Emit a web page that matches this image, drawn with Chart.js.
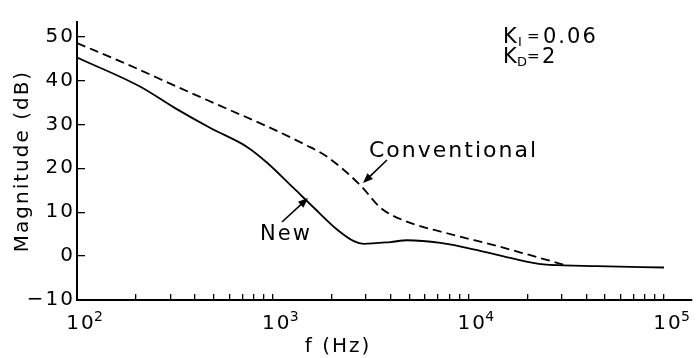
<!DOCTYPE html>
<html>
<head>
<meta charset="utf-8">
<script src="https://cdn.jsdelivr.net/npm/chart.js@4"></script>
<style>
  html, body { margin: 0; padding: 0; background: #fff; }
  #wrap { width: 699px; height: 358px; }
</style>
</head>
<body>
<div id="wrap"><canvas id="bode" width="699" height="358"></canvas></div>
<script>
// frequency (Hz) and magnitude (dB)
var freqNew = [100, 212, 314, 483, 743, 940, 1285, 1625, 2140, 2600, 2920, 4000, 4860, 7200, 11500, 17000, 24200, 30600, 45300, 100000];
var magNew  = [45.2, 38.5, 33.8, 29.1, 24.8, 21.2, 15.4, 11.0, 6.0, 3.4, 2.8, 3.2, 3.6, 3.0, 1.2, -0.6, -1.9, -2.1, -2.3, -2.6];

var freqConv = [100, 182, 327, 587, 940, 1445, 1900, 2810, 3560, 4680, 7780, 14000, 20700, 31000];
var magConv  = [48.5, 43.6, 38.5, 33.5, 29.5, 25.5, 22.6, 16.1, 11.0, 8.1, 5.2, 2.3, 0.2, -2.0];

var decades = [100, 1000, 10000, 100000];
var decadeExp = ['2', '3', '4', '5'];
var yTickValues = [-10, 0, 10, 20, 30, 40, 50];

var FONT = '"DejaVu Sans", sans-serif';

// minor ticks 1..9 per decade
var xTickValues = [];
decades.forEach(function (d, i) {
  if (i == decades.length - 1) { xTickValues.push(d); return; }
  for (var k = 1; k < 10; k++) xTickValues.push(d * k);
});

function pairs(xs, ys) {
  return xs.map(function (x, i) { return { x: x, y: ys[i] }; });
}

function arrow(ctx, x1, y1, x2, y2) {
  var a = Math.atan2(y2 - y1, x2 - x1);
  ctx.beginPath();
  ctx.moveTo(x1, y1);
  ctx.lineTo(x2 - 6 * Math.cos(a), y2 - 6 * Math.sin(a));
  ctx.stroke();
  ctx.beginPath();
  ctx.moveTo(x2, y2);
  ctx.lineTo(x2 - 10 * Math.cos(a) + 4 * Math.sin(a), y2 - 10 * Math.sin(a) - 4 * Math.cos(a));
  ctx.lineTo(x2 - 10 * Math.cos(a) - 4 * Math.sin(a), y2 - 10 * Math.sin(a) + 4 * Math.cos(a));
  ctx.closePath();
  ctx.fill();
}

var spacing = {
  id: 'spacing',
  beforeDraw: function (chart) { chart.ctx.letterSpacing = '2px'; }
};

var notes = {
  id: 'notes',
  afterDraw: function (chart) {
    var ctx = chart.ctx;
    var xs = chart.scales.x;
    ctx.save();
    ctx.letterSpacing = '2px';
    ctx.fillStyle = '#000';
    ctx.strokeStyle = '#000';
    ctx.lineWidth = 1.6;
    ctx.textAlign = 'left';
    ctx.textBaseline = 'alphabetic';

    // decade exponents
    ctx.font = '14px ' + FONT;
    decades.forEach(function (d, i) {
      ctx.fillText(decadeExp[i], xs.getPixelForValue(d) + 17, 321);
    });

    // x axis title
    ctx.font = '20px ' + FONT;
    ctx.textAlign = 'center';
    ctx.textBaseline = 'middle';
    ctx.fillText('f (Hz)', 338, 347);
    ctx.textAlign = 'left';
    ctx.textBaseline = 'alphabetic';

    // gains
    ctx.font = '21px ' + FONT;
    ctx.fillText('K', 503, 43);
    ctx.fillText('0.06', 543, 43);
    ctx.fillText('K', 503, 63);
    ctx.fillText('2', 542, 63);
    ctx.letterSpacing = '0px';
    ctx.font = '15px ' + FONT;
    ctx.fillText('=', 527, 41);
    ctx.fillText('=', 527, 61);
    ctx.font = '13px ' + FONT;
    ctx.fillText('I', 518, 46);
    ctx.fillText('D', 517, 66);
    ctx.letterSpacing = '2px';

    // curve labels
    ctx.font = '22px ' + FONT;
    ctx.fillText('Conventional', 369, 157);
    arrow(ctx, 387, 160, 363, 183);
    ctx.font = '21px ' + FONT;
    ctx.fillText('New', 260, 240);
    arrow(ctx, 282, 222, 308, 198);
    ctx.restore();
  }
};

new Chart('bode', {
  type: 'line',
  data: {
    datasets: [{
      label: 'New',
      data: pairs(freqNew, magNew),
      borderColor: '#000',
      borderWidth: 1.8,
      pointRadius: 0,
      cubicInterpolationMode: 'monotone',
    }, {
      label: 'Conventional',
      data: pairs(freqConv, magConv),
      borderColor: '#000',
      borderWidth: 1.8,
      borderDash: [9, 5],
      pointRadius: 0,
      cubicInterpolationMode: 'monotone',
    }],
  },
  options: {
    responsive: false,
    animation: false,
    layout: { padding: { top: 9, right: 7, left: 0, bottom: 0 } },
    plugins: { legend: { display: false }, tooltip: { enabled: false } },
    scales: {
      x: {
        type: 'logarithmic',
        min: 100,
        max: 139000,
        afterBuildTicks: function (s) {
          s.ticks = xTickValues.map(function (v) { return { value: v }; });
        },
        afterFit: function (s) { s.height = 58; },
        border: { color: '#000', width: 2 },
        grid: { drawOnChartArea: false, tickLength: -6, color: '#000', lineWidth: 1.3 },
        ticks: {
          autoSkip: false,
          maxRotation: 0,
          padding: 18,
          labelOffset: 4,
          color: '#000',
          font: { family: FONT, size: 20 },
          callback: function (v) {
            return decades.indexOf(v) >= 0 ? '10' : '';
          },
        },
      },
      y: {
        min: -10,
        max: 53.3,
        afterBuildTicks: function (s) {
          s.ticks = yTickValues.map(function (v) { return { value: v }; });
        },
        afterFit: function (s) { s.width = 77; },
        border: { color: '#000', width: 2 },
        grid: { drawOnChartArea: false, tickLength: -8, color: '#000', lineWidth: 1.3 },
        ticks: {
          padding: 10,
          color: '#000',
          font: { family: FONT, size: 20 },
          callback: function (v) { return String(v).replace('-', '\u2212'); },
        },
        title: {
          display: true,
          text: 'Magnitude (dB)',
          color: '#000',
          font: { family: FONT, size: 20 },
          padding: { top: 11, bottom: 0 },
        },
      },
    },
  },
  plugins: [spacing, notes],
});
</script>
</body>
</html>
